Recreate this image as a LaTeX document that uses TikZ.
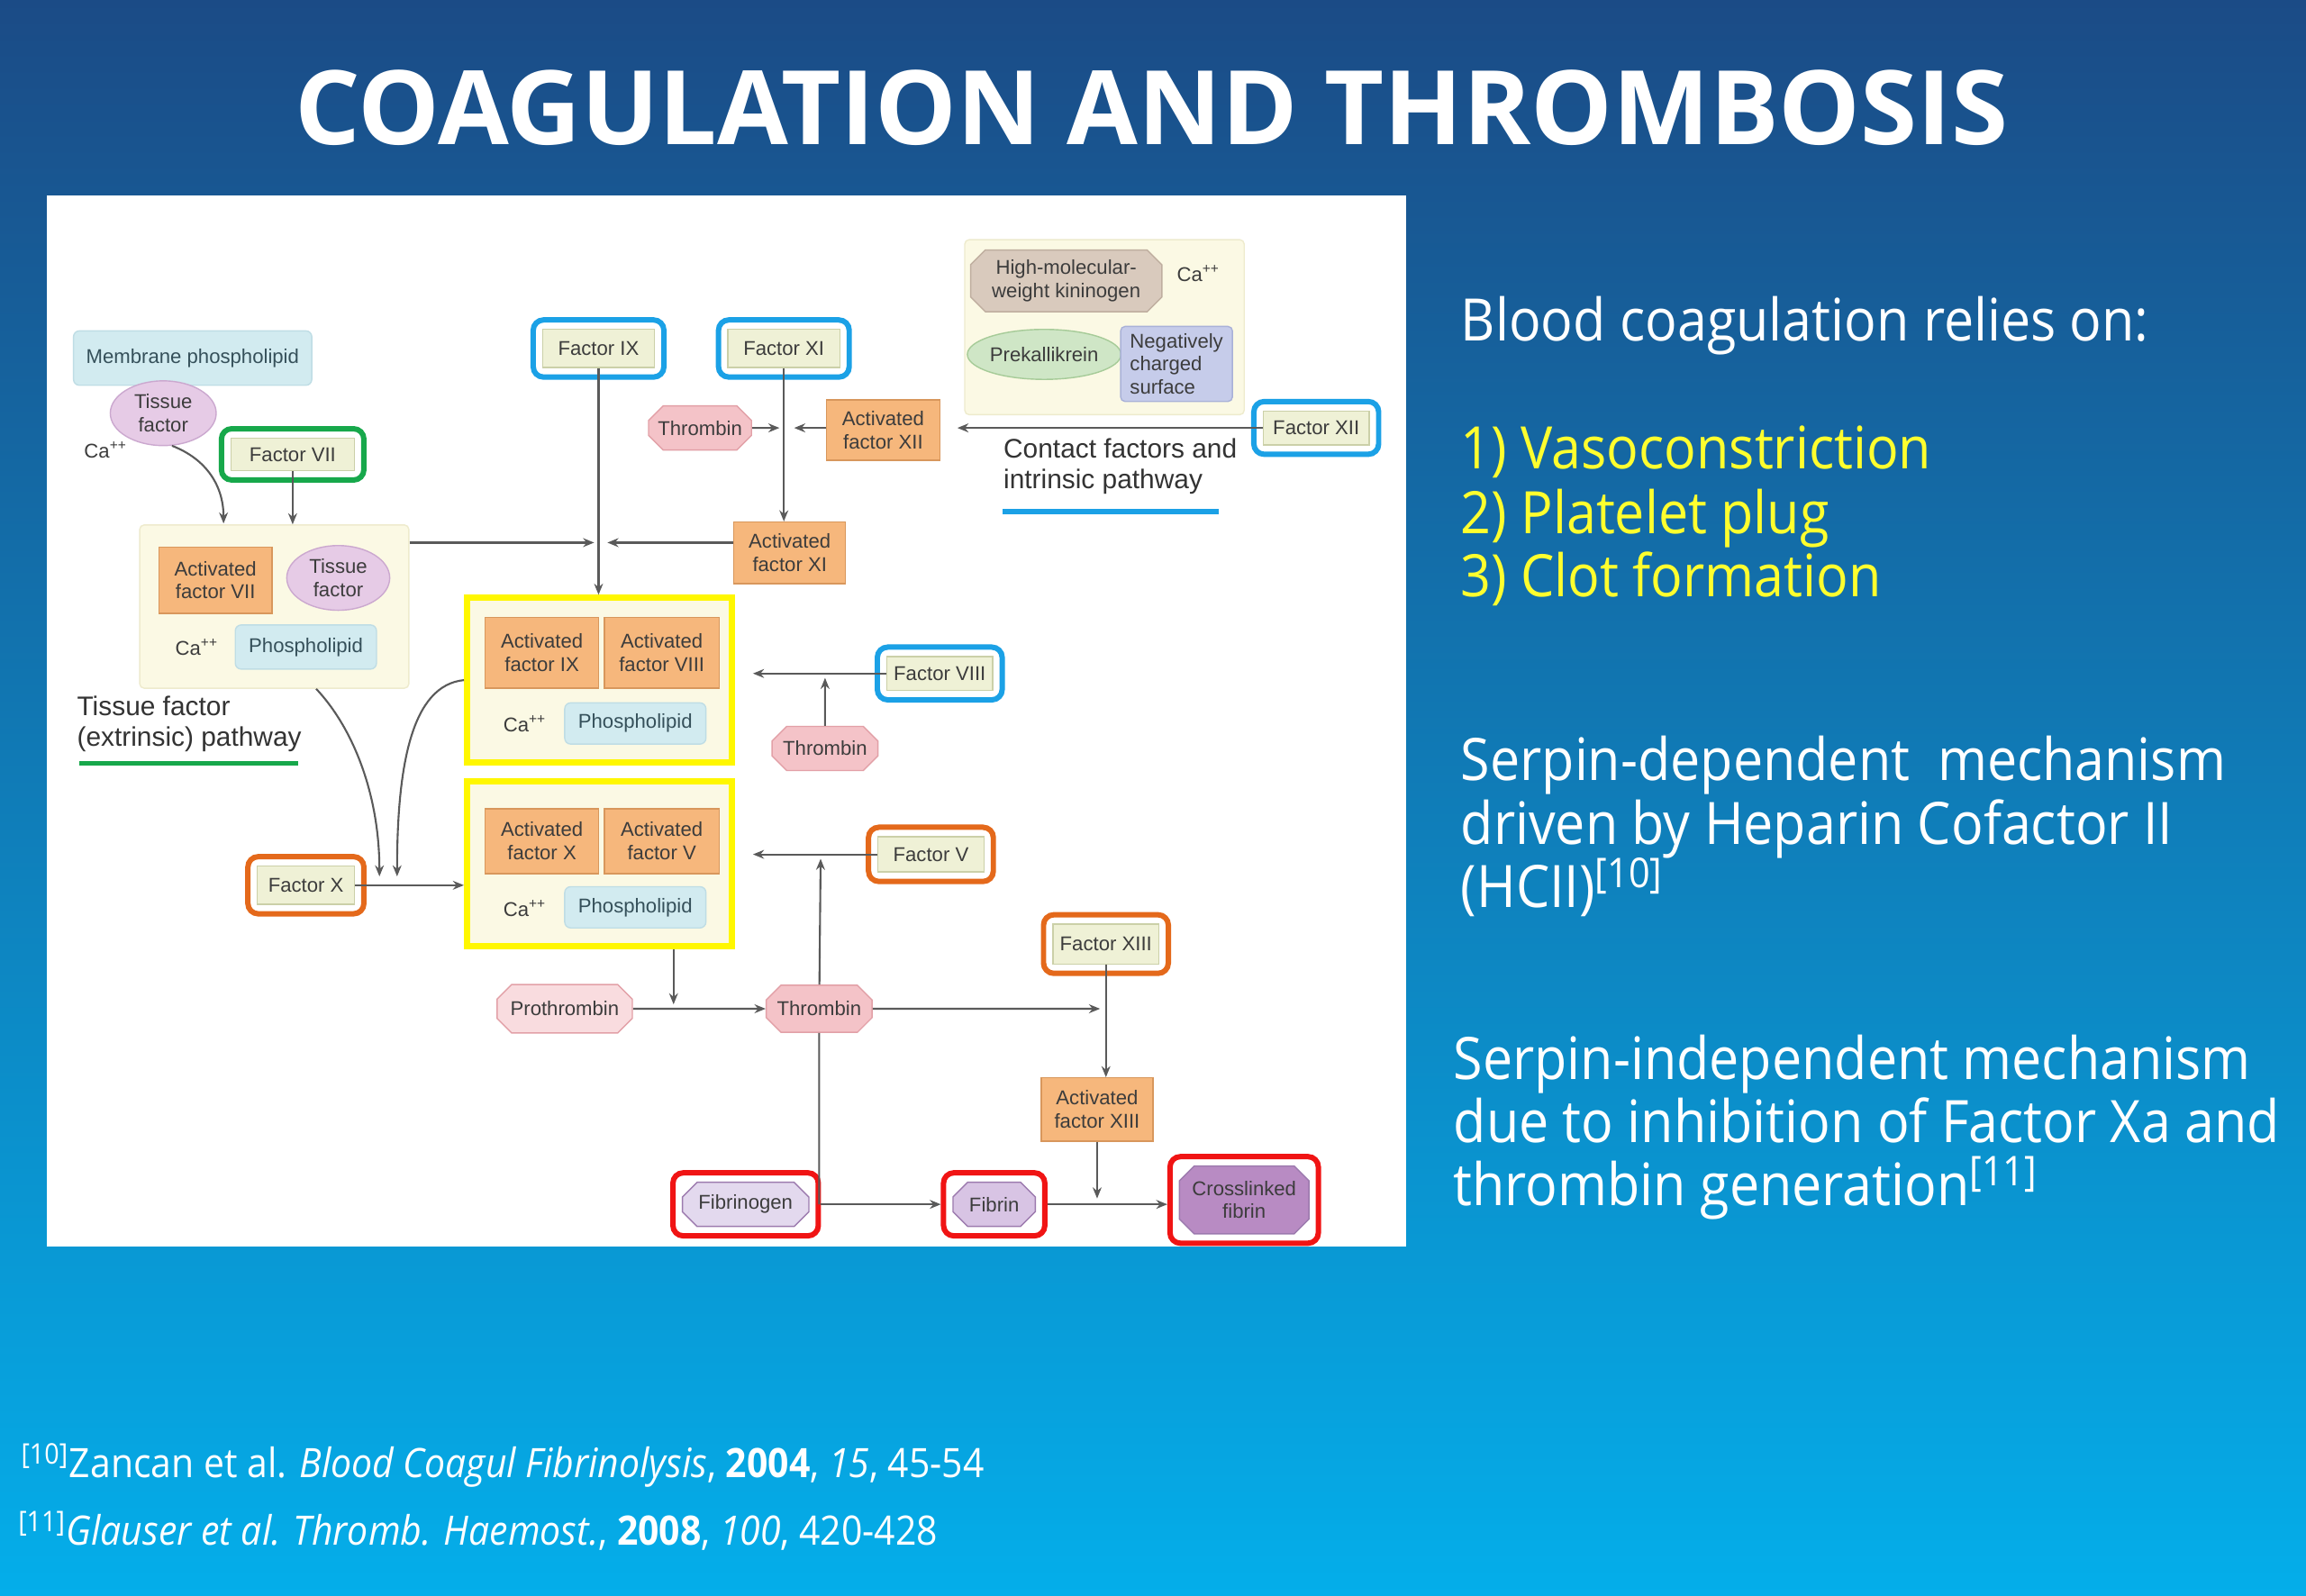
\documentclass[tikz,border=0pt]{standalone}
\usepackage{fontspec}
\usetikzlibrary{shapes.geometric,shapes.misc,arrows.meta,fit}
\newfontfamily\diagfont{Liberation Sans}
\newfontfamily\slidefont[FakeStretch=0.91]{Open Sans}
\newfontfamily\titlefont{Open Sans}
\newlength\px
\setlength\px{0.16327mm}
\definecolor{bgtop}{HTML}{1B4B86}
\definecolor{bgmid}{HTML}{0A6DBA}
\definecolor{bgbot}{HTML}{04AEEA}
\definecolor{inkgray}{HTML}{3C3C3C}
\definecolor{linegray}{HTML}{5A5A5A}
\definecolor{factfill}{HTML}{EFF1D6}
\definecolor{factline}{HTML}{CBD0A8}
\definecolor{actfill}{HTML}{F6B77C}
\definecolor{actline}{HTML}{D8975C}
\definecolor{creamfill}{HTML}{FBF9E4}
\definecolor{creamline}{HTML}{EEEBCD}
\definecolor{lipidfill}{HTML}{D2EBF0}
\definecolor{lipidline}{HTML}{BFDDE5}
\definecolor{lipidink}{HTML}{35505A}
\definecolor{tffill}{HTML}{E6CBE6}
\definecolor{tfline}{HTML}{CBA8CF}
\definecolor{thrfill}{HTML}{F4C3C8}
\definecolor{thrline}{HTML}{E2A0A7}
\definecolor{profill}{HTML}{F9DCDF}
\definecolor{fgnfill}{HTML}{E3D9EE}
\definecolor{fibfill}{HTML}{D8C4E4}
\definecolor{xfibfill}{HTML}{B88BC3}
\definecolor{fibline}{HTML}{9C7AAE}
\definecolor{hkfill}{HTML}{D9CABD}
\definecolor{hkline}{HTML}{BFAE9F}
\definecolor{pkfill}{HTML}{CFE6C6}
\definecolor{pkline}{HTML}{A6CB98}
\definecolor{ncsfill}{HTML}{C6CCEA}
\definecolor{ncsline}{HTML}{A9B1D8}
\definecolor{fblue}{HTML}{1BA1E6}
\definecolor{fgreen}{HTML}{17A84B}
\definecolor{forange}{HTML}{E4691B}
\definecolor{fred}{HTML}{F01414}
\definecolor{fyellow}{HTML}{FFF700}
\definecolor{listyellow}{HTML}{FFFF2E}
\tikzset{
  diag/.style={font=\diagfont\fontsize{6.3}{7.3}\selectfont, text=inkgray, align=center, inner sep=0pt},
  sz/.style 2 args={minimum width=#1\px, minimum height=#2\px},
  factor/.style={diag, draw=factline, fill=factfill, line width=0.4pt},
  active/.style={diag, draw=actline, fill=actfill, line width=0.4pt},
  lipid/.style={diag, draw=lipidline, fill=lipidfill, rounded corners=4\px, text=lipidink},
  tfac/.style={diag, ellipse, draw=tfline, fill=tffill},
  wavy/.style={diag, chamfered rectangle, chamfered rectangle sep=5\px, draw=thrline, fill=thrfill},
  cplx/.style={draw=creamline, fill=creamfill, rounded corners=3\px},
  ringbox/.style={draw=#1, line width=1.7pt, rounded corners=7\px, inner sep=6\px},
  arr/.style={draw=linegray, line width=0.6pt, -{Stealth[length=3.5pt,width=2.8pt]}},
  link/.style={draw=linegray, line width=0.6pt},
  pathlabel/.style={font=\diagfont\fontsize{8.5}{9.7}\selectfont, text=inkgray!85!black, align=left, inner sep=0pt, anchor=north west},
  slide/.style={font=\slidefont\fontsize{18.5}{20.1}\selectfont, text=white, inner sep=0pt, anchor=base west},
  note/.style={font=\slidefont\fontsize{12.8}{14}\selectfont, text=white, inner sep=0pt, anchor=base west}
}
\begin{document}
\begin{tikzpicture}[x=1\px, y=-1\px]
    \useasboundingbox (0,0) rectangle (1568,1085.3);
    \shade[top color=bgtop, middle color=bgmid, bottom color=bgbot] (0,0) rectangle (1568,1085.3);
    \node[font=\titlefont\bfseries\fontsize{32.5}{36}\selectfont, text=white, inner sep=0pt] (title) at (783,73) {COAGULATION AND THROMBOSIS};
    \fill[white] (32,133) rectangle (956,848);

    \node[lipid, sz={162}{37}] (memb) at (131,243.5) {Membrane phospholipid};
    \node[tfac, sz={72}{44}] (tf1) at (111,281) {Tissue\\factor};
    \node[diag] (ca1) at (72,306) {Ca\textsuperscript{++}};
    \node[factor, sz={84}{22}] (f7) at (199,309) {Factor VII};
    \node[ringbox=fgreen, fit=(f7)] (f7box) {};
    \node[cplx, sz={183}{111}] (ext) at (186.5,412.5) {};
    \node[active, sz={77}{45}] (a7) at (146.5,394.5) {Activated\\factor VII};
    \node[tfac, sz={70}{44}] (tf2) at (230,393) {Tissue\\factor};
    \node[diag] (ca2) at (134,440) {Ca\textsuperscript{++}};
    \node[lipid, sz={96}{30}] (pl1) at (208,440) {Phospholipid};
    \node[pathlabel] (extlab) at (52,473) {Tissue factor\\(extrinsic) pathway};
    \draw[fgreen, line width=1.6pt] (54,519) -- (203,519);

    \node[cplx, sz={190}{119}] (cont) at (751,222.5) {};
    \node[wavy, draw=hkline, fill=hkfill, sz={130}{42}] (hk) at (725,191) {High-molecular-\\weight kininogen};
    \node[diag] (ca3) at (815,186) {Ca\textsuperscript{++}};
    \node[diag, ellipse, draw=pkline, fill=pkfill, sz={94}{34}] (pk) at (710,241) {Prekallikrein};
    \node[diag, align=left, draw=ncsline, fill=ncsfill, rounded corners=3\px, sz={76}{51}] (ncs) at (800,247.5) {Negatively\\charged\\surface};
    \node[factor, sz={72}{23}] (f12) at (895,291) {Factor XII};
    \node[ringbox=fblue, fit=(f12)] (f12box) {};
    \node[pathlabel] (contlab) at (682,298) {Contact factors and\\intrinsic pathway};
    \draw[fblue, line width=1.6pt] (682,348) -- (829,348);

    \node[factor, sz={76}{26}] (f9) at (407,237) {Factor IX};
    \node[ringbox=fblue, fit=(f9)] (f9box) {};
    \node[factor, sz={76}{26}] (f11) at (533,237) {Factor XI};
    \node[ringbox=fblue, fit=(f11)] (f11box) {};
    \node[wavy, sz={70}{30}] (thr1) at (476,291) {Thrombin};
    \node[active, sz={77}{41}] (a12) at (600.5,292.5) {Activated\\factor XII};
    \node[active, sz={76}{42}] (a11) at (537,376) {Activated\\factor XI};

    \node[cplx, draw=fyellow, line width=1.9pt, rounded corners=0pt, sz={180}{112}] (cx9) at (407.5,462.5) {};
    \node[active, sz={77}{48}] (a9) at (368.5,444) {Activated\\factor IX};
    \node[active, sz={78}{48}] (a8) at (450,444) {Activated\\factor VIII};
    \node[diag] (ca4) at (357,492) {Ca\textsuperscript{++}};
    \node[lipid, sz={96}{28}] (pl2) at (432,492) {Phospholipid};
    \node[factor, sz={72}{23}] (f8) at (639,458) {Factor VIII};
    \node[ringbox=fblue, fit=(f8)] (f8box) {};
    \node[wavy, sz={72}{30}] (thr2) at (561,509) {Thrombin};

    \node[cplx, draw=fyellow, line width=1.9pt, rounded corners=0pt, sz={180}{112}] (cx10) at (407.5,587.5) {};
    \node[active, sz={77}{44}] (a10) at (368.5,572) {Activated\\factor X};
    \node[active, sz={78}{44}] (a5) at (450,572) {Activated\\factor V};
    \node[diag] (ca5) at (357,618) {Ca\textsuperscript{++}};
    \node[lipid, sz={96}{28}] (pl3) at (432,617) {Phospholipid};
    \node[factor, sz={66}{26}] (f10) at (208,602) {Factor X};
    \node[ringbox=forange, fit=(f10)] (f10box) {};
    \node[factor, sz={72}{24}] (f5) at (633,581) {Factor V};
    \node[ringbox=forange, fit=(f5)] (f5box) {};

    \node[wavy, fill=profill, sz={92}{33}] (pro) at (384,686) {Prothrombin};
    \node[wavy, sz={72}{32}] (thr3) at (557,686) {Thrombin};
    \node[factor, sz={72}{27}] (f13) at (752,642) {Factor XIII};
    \node[ringbox=forange, fit=(f13)] (f13box) {};
    \node[active, sz={76}{43}] (a13) at (746,754.5) {Activated\\factor XIII};
    \node[wavy, draw=fibline, fill=fgnfill, sz={86}{30}] (fgn) at (507,819) {Fibrinogen};
    \node[ringbox=fred, fit=(fgn)] (fgnbox) {};
    \node[wavy, draw=fibline, fill=fibfill, sz={56}{30}] (fib) at (676,819) {Fibrin};
    \node[ringbox=fred, fit=(fib)] (fibbox) {};
    \node[wavy, draw=fibline, fill=xfibfill, sz={88}{46}] (xfib) at (846,816) {Crosslinked\\fibrin};
    \node[ringbox=fred, fit=(xfib)] (xfibbox) {};

    \coordinate (e1) at (152,356);
    \coordinate (j9a) at (404,369);
    \coordinate (j9b) at (413,369);
    \coordinate (j11a) at (530,291);
    \coordinate (j11b) at (540,291);
    \coordinate (j12) at (651,291);
    \coordinate (j8) at (512,458);
    \coordinate (j8b) at (561,461);
    \coordinate (jx1) at (258,596);
    \coordinate (jx2) at (270,596);
    \coordinate (j5) at (512,581);
    \coordinate (j5b) at (558,584);
    \coordinate (jpro) at (458,683);
    \coordinate (j13) at (748,686);
    \coordinate (jfib) at (746,815);

    \draw[arr] (tf1.285) .. controls (140,312) and (152,330) .. (e1);
    \draw[arr] (f7) -- (f7 |- ext.north);
    \draw[arr] (ext.east |- j9a) -- (j9a);
    \draw[arr] (a11.west |- j9b) -- (j9b);
    \draw[arr] (f9) -- (f9 |- cx9.north);
    \draw[arr] (f11) -- (f11 |- a11.north);
    \draw[arr] (thr1) -- (j11a);
    \draw[arr] (a12.west |- j11b) -- (j11b);
    \draw[arr] (f12) -- (j12);
    \draw[arr] (f8) -- (j8);
    \draw[arr] (thr2) -- (j8b);
    \draw[arr] (cx9.west) .. controls (280,466) and (270,520) .. (jx2);
    \draw[arr] ([xshift=28.5\px]ext.south) .. controls (240,495) and (258,540) .. (jx1);
    \draw[arr] (f10) -- (f10 -| cx10.west);
    \draw[arr] (f5) -- (j5);
    \draw[arr] (thr3) -- (j5b);
    \draw[arr] (cx10.south -| jpro) -- (jpro);
    \draw[arr] (pro) -- (thr3);
    \draw[arr] (thr3) -- (j13);
    \draw[arr] (f13) -- (f13 |- a13.north);
    \draw[arr] (a13) -- (a13 |- jfib);
    \draw[link] (thr3) -- (thr3 |- fgn);
    \draw[arr] (fgnbox) -- (fibbox);
    \draw[arr] (fibbox) -- (fibbox -| xfibbox.west);

    \node[slide] (t1) at (993,232) {Blood coagulation relies on:};
    \node[slide, text=listyellow] (t2) at (993,319) {1) Vasoconstriction};
    \node[slide, text=listyellow] (t3) at (993,363) {2) Platelet plug};
    \node[slide, text=listyellow] (t4) at (993,406) {3) Clot formation};
    \node[slide] (t5) at (993,531) {Serpin-dependent\ \ mechanism};
    \node[slide] (t6) at (993,574) {driven by Heparin Cofactor II};
    \node[slide] (t7) at (993,617) {(HCII)\textsuperscript{[10]}};
    \node[slide] (t8) at (988,734) {Serpin-independent mechanism};
    \node[slide] (t9) at (988,777) {due to inhibition of Factor Xa and};
    \node[slide] (t10) at (988,820) {thrombin generation\textsuperscript{[11]}};

    \node[note] (n1) at (14,1005) {\textsuperscript{[10]}Zancan et al. \textit{Blood Coagul Fibrinolysis}, \textbf{2004}, \textit{15}, 45-54};
    \node[note] (n2) at (12,1051) {\textsuperscript{[11]}\textit{Glauser et al. Thromb. Haemost.}, \textbf{2008}, \textit{100}, 420-428};
\end{tikzpicture}
\end{document}
